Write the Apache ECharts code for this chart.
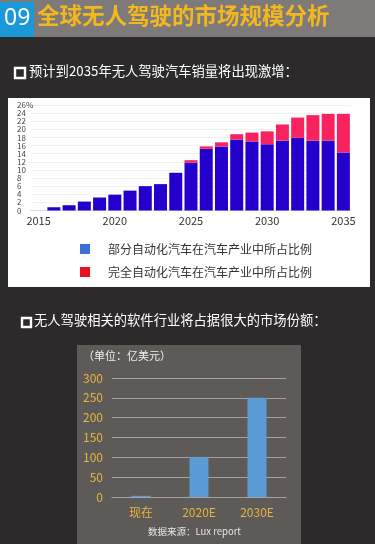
<!DOCTYPE html>
<html>
<head>
<meta charset="utf-8">
<script src="https://cdn.jsdelivr.net/npm/echarts@6/dist/echarts.min.js"></script>
<style>
html,body{margin:0;padding:0;background:#2c2a2b;}
#c{width:375px;height:544px;}
</style>
</head>
<body>
<div id="c"></div>
<script>
// Chart 1 data
const years = ['2015','2016','2017','2018','2019','2020','2021','2022','2023','2024','2025','2026','2027','2028','2029','2030','2031','2032','2033','2034','2035'];
const partialShare = [0, 0.8, 1.3, 2.2, 3.2, 3.9, 4.9, 6.0, 6.5, 9.3, 11.8, 15.2, 15.8, 17.5, 17.0, 16.3, 17.2, 17.9, 17.2, 17.2, 14.3];
const fullShare =    [0, 0, 0, 0, 0, 0, 0, 0, 0, 0, 0.6, 0.6, 1.0, 1.3, 2.2, 3.2, 4.0, 5.0, 6.3, 6.6, 9.5];
const seriesNames = ['部分自动化汽车在汽车产业中所占比例', '完全自动化汽车在汽车产业中所占比例'];
// Chart 2 data
const marketCats = ['现在', '2020E', '2030E'];
const marketValues = [3, 100, 250];

const FONT = '"Noto Sans CJK SC", "Noto Sans", sans-serif';
const chart = echarts.init(document.getElementById('c'));

function boxIcon(x, y, s) {
  return {type: 'rect', shape: {x: x, y: y, width: s, height: s}, style: {fill: 'none', stroke: '#fff', lineWidth: 2.4}, z: 10};
}

chart.setOption({
  backgroundColor: '#2c2a2b',
  animation: false,
  textStyle: {fontFamily: FONT},
  graphic: [
    {type: 'rect', shape: {x: 0, y: 0, width: 375, height: 37}, style: {fill: '#7e7a79'}, z: 0},
    {type: 'rect', shape: {x: 0, y: 2, width: 34, height: 35}, style: {fill: '#1b98d8'}, z: 1},
    {type: 'text', left: 4, top: 7, style: {text: '09', fill: '#ffffff', font: '23px "Noto Sans", sans-serif'}, z: 2},
    {type: 'text', left: 37, top: 4, style: {text: '全球无人驾驶的市场规模分析', fill: '#f3b81f', font: 'bold 22.5px "Noto Sans CJK SC", sans-serif'}, z: 2},
    boxIcon(15, 68, 10),
    {type: 'text', left: 29, top: 64, style: {text: '预计到2035年无人驾驶汽车销量将出现激增：', fill: '#ffffff', font: '13.3px "Noto Sans CJK SC", sans-serif'}, z: 2},
    {type: 'rect', shape: {x: 8, y: 98, width: 362, height: 189}, style: {fill: '#ffffff'}, z: 0},
    boxIcon(22, 318, 9),
    {type: 'text', left: 34, top: 313, style: {text: '无人驾驶相关的软件行业将占据很大的市场份额：', fill: '#ffffff', font: '13.3px "Noto Sans CJK SC", sans-serif'}, z: 2},
    {type: 'rect', shape: {x: 77, y: 345, width: 224, height: 199}, style: {fill: '#5d5a58'}, z: 0},
    {type: 'text', left: 83, top: 350, style: {text: '（单位：亿美元）', fill: '#f2f2f2', font: '11px "Noto Sans CJK SC", sans-serif'}, z: 2},
    {type: 'text', left: 148, top: 527, style: {text: '数据来源：Lux report', fill: '#e6e6e6', font: '9.5px "Noto Sans CJK SC", sans-serif'}, z: 2}
  ],
  legend: {
    orient: 'vertical',
    left: 75,
    top: 238,
    itemWidth: 10,
    itemHeight: 10,
    itemGap: 11,
    icon: 'rect',
    textStyle: {color: '#333', fontSize: 12, fontFamily: FONT, padding: [0, 0, 0, 13]},
    data: [
      {name: seriesNames[0], itemStyle: {color: '#3a6fd6'}},
      {name: seriesNames[1], itemStyle: {color: '#e8101c'}}
    ]
  },
  grid: [
    {left: 31, right: 24, top: 105, bottom: 333.5, containLabel: false},
    {left: 112, right: 89, top: 378, bottom: 47, containLabel: false}
  ],
  xAxis: [
    {
      type: 'category', gridIndex: 0, data: years,
      axisTick: {show: false},
      axisLine: {lineStyle: {color: '#d8d4ea'}},
      axisLabel: {
        color: '#333', fontSize: 11, margin: 5,
        interval: function (i, v) { return (+v) % 5 === 0; }
      }
    },
    {
      type: 'category', gridIndex: 1, data: marketCats,
      axisTick: {show: false},
      axisLine: {lineStyle: {color: '#a5a3a1'}},
      axisLabel: {color: '#e8b640', fontSize: 12, margin: 9}
    }
  ],
  yAxis: [
    {
      type: 'value', gridIndex: 0, min: 0, max: 26, interval: 2,
      axisLine: {show: false}, axisTick: {show: false},
      splitLine: {lineStyle: {color: '#f1f1f1'}},
      axisLabel: {
        color: '#444', fontSize: 8, align: 'left', margin: 14,
        formatter: function (v) { return v === 26 ? '26%' : String(v); }
      }
    },
    {
      type: 'value', gridIndex: 1, min: 0, max: 300, interval: 50,
      axisLine: {show: false}, axisTick: {show: false},
      splitLine: {lineStyle: {color: '#a5a3a1'}},
      axisLabel: {color: '#e8b640', fontSize: 12, margin: 9}
    }
  ],
  series: [
    {
      name: seriesNames[0], type: 'bar', stack: 'a', xAxisIndex: 0, yAxisIndex: 0,
      data: partialShare, barWidth: 13,
      itemStyle: {color: '#2400cc'}
    },
    {
      name: seriesNames[1], type: 'bar', stack: 'a', xAxisIndex: 0, yAxisIndex: 0,
      data: fullShare, barWidth: 13,
      itemStyle: {color: '#f8235e'}
    },
    {
      name: '市场规模', type: 'bar', xAxisIndex: 1, yAxisIndex: 1,
      data: marketValues, barWidth: 19,
      itemStyle: {color: '#5b9bd5'}
    }
  ]
});
</script>
</body>
</html>
